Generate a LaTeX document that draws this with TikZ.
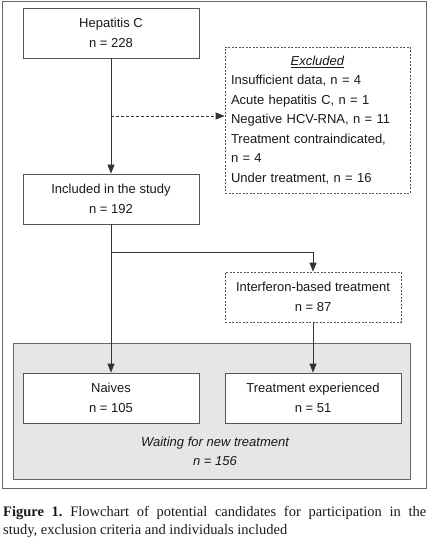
\documentclass[tikz,border=0pt]{standalone}
\usepackage{fontspec}
\setmainfont{Liberation Sans}
\newfontfamily\capfont{Liberation Serif}
\usetikzlibrary{arrows.meta}
\definecolor{lineC}{HTML}{333333}
\definecolor{boxC}{HTML}{555555}
\definecolor{grayfill}{HTML}{E6E6E6}
\definecolor{grayline}{HTML}{666666}
\frenchspacing
\begin{document}
\begin{tikzpicture}[x=1pt,y=-1pt,
  every node/.style={font=\fontsize{13}{19.5}\selectfont, text=black!90},
  flowbox/.style={draw=boxC, line width=0.8pt, fill=white, rectangle, minimum width=176pt, minimum height=50pt, inner sep=0pt, align=center},
  dbox/.style={flowbox, dash pattern=on 2pt off 1.5pt},
  conn/.style={draw=lineC, line width=0.8pt, -{Triangle[length=9pt,width=7pt]}},
  dconn/.style={conn, dash pattern=on 3pt off 2pt}
]
\useasboundingbox (0,0) rectangle (430,548);
% outer frame
\node[draw=grayline, line width=0.9pt, minimum width=424pt, minimum height=487pt, inner sep=0pt] (frame) at (214,245) {};
% gray group
\node[draw=grayline, fill=grayfill, line width=0.8pt, minimum width=397pt, minimum height=136pt, inner sep=0pt] (group) at (211.5,411) {};

\node[flowbox] (hep) at (111,33) {Hepatitis C\\n = 228};
\node[dbox, minimum width=185pt, minimum height=146pt, text width=173pt, align=left] (excl) at (317.5,120)
  {\makebox[173pt]{\underline{\textit{Excluded}}}\\
   Insufficient data, n = 4\\
   Acute hepatitis C, n = 1\\
   Negative HCV-RNA, n = 11\\
   Treatment contraindicated,\\
   n = 4\\
   Under treatment, n = 16};
\node[flowbox] (inc) at (111,199) {Included in the study\\n = 192};
\node[dbox] (ifn) at (313,297) {Interferon-based treatment\\n = 87};
\node[flowbox] (naive) at (111,398) {Naives\\n = 105};
\node[flowbox] (texp) at (313,398) {Treatment experienced\\n = 51};
\node[align=center, font=\fontsize{13}{19}\selectfont\itshape] (wait) at (215,451) {Waiting for new treatment\\n = 156};

\coordinate (b1) at (111,116);
\coordinate (b2) at (111,252);
\draw[conn] (hep.south) -- (inc.north);
\draw[dconn] (b1) -- (b1 -| excl.west);
\draw[conn] (inc.south) -- (naive.north);
\draw[conn] (b2) -| (ifn.north);
\draw[conn] (ifn.south) -- (texp.north);

\node[text width=423pt, align=justify, inner sep=0pt, anchor=north west, font=\capfont\fontsize{14.5}{18}\selectfont] (cap) at (3,506)
  {\textbf{Figure 1.} Flowchart of potential candidates for participation in the\linebreak study, exclusion criteria and individuals included};
\end{tikzpicture}
\end{document}
